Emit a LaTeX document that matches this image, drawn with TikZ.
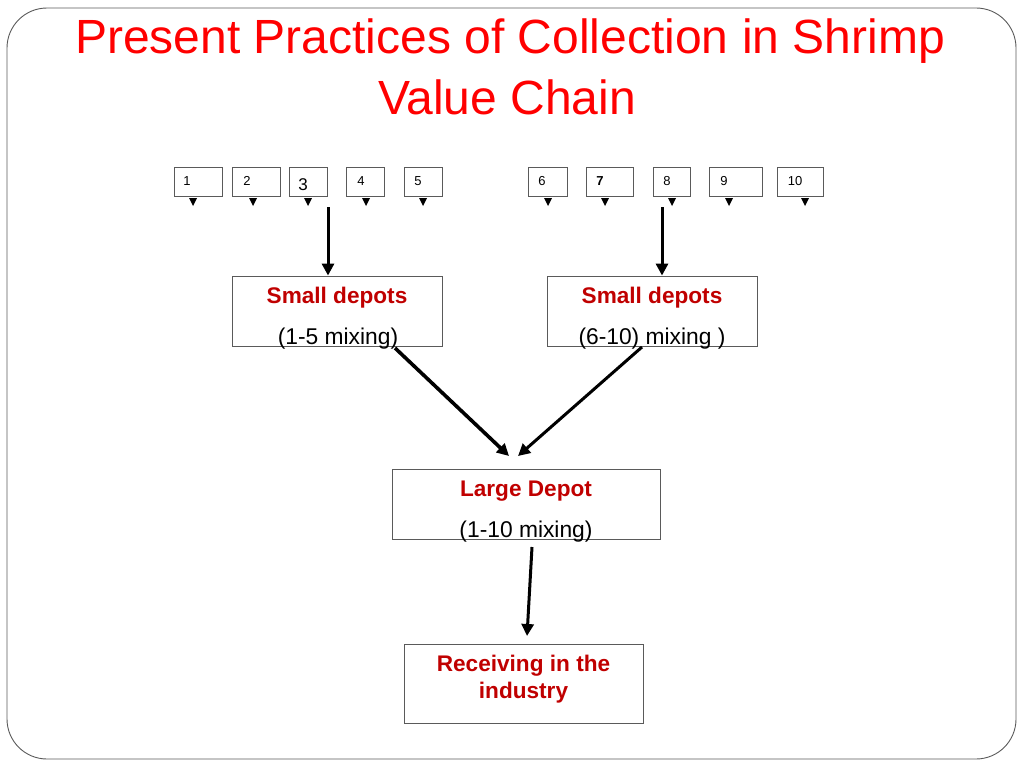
\documentclass[tikz,border=0pt]{standalone}
\usepackage{fontspec}
\setmainfont{Liberation Sans}
\usetikzlibrary{arrows.meta}
\definecolor{titlered}{RGB}{255,0,0}
\definecolor{boxred}{RGB}{192,0,0}
\definecolor{framegray}{RGB}{90,90,90}
\tikzset{
  numbox/.style={draw=framegray, line width=0.9pt, minimum height=29pt, inner sep=0pt},
  numtxt/.style={font=\fontsize{13}{13}\selectfont, inner sep=0pt},
  bigbox/.style={draw=framegray, line width=0.9pt, inner sep=0pt},
  redtxt/.style={text=boxred, font=\bfseries\fontsize{22.6}{27}\selectfont, inner sep=0pt, align=center},
  blacktxt/.style={font=\fontsize{22.8}{27}\selectfont, inner sep=0pt},
  titletxt/.style={text=titlered, font=\fontsize{48}{48}\selectfont, inner sep=0pt, anchor=base},
  bigarrow/.style={line width=3pt, -{Triangle[width=12pt,length=12pt]}},
  tri/.style={fill=black},
}
\begin{document}
\begin{tikzpicture}[x=1pt,y=-1pt]
\useasboundingbox (0,0) rectangle (1024,768);
\draw[framegray, line width=0.9pt, rounded corners=40pt] (7,8) rectangle (1016,759);
% title
\node[titletxt] (t1) at (510,54) {Present Practices of Collection in Shrimp};
\node[titletxt] (t2) at (507,114) {Value Chain};
% small numbered boxes
\foreach \n/\cx/\w/\tx/\trx in {1/198/48/187/193, 2/256/48/247/253, 4/365/38/361/366, 5/423/38/418/423, 6/547.5/39/542/548, 8/671.5/37/667/672, 9/735.5/53/724/729, 10/800/46/795/805}{
  \node[numbox, minimum width=\w pt] (b\n) at (\cx,181.5) {};
  \node[numtxt] (n\n) at (\tx,181) {\n};
  \fill[tri] (\trx-4,198) -- (\trx+4,198) -- (\trx,206) -- cycle;
}
\node[numbox, minimum width=38pt] (b3) at (308,181.5) {};
\node[inner sep=0pt, font=\fontsize{17}{17}\selectfont] (n3) at (303,185) {3};
\fill[tri] (304,198) -- (312,198) -- (308,206) -- cycle;
\node[numbox, minimum width=47pt] (b7) at (609.5,181.5) {};
\node[numtxt, font=\bfseries\fontsize{13}{13}\selectfont] (n7) at (600,181) {7};
\fill[tri] (601,198) -- (609,198) -- (605,206) -- cycle;
% small depots
\node[bigbox, minimum width=210pt, minimum height=70pt] (sd1) at (337,311) {};
\node[redtxt] (sd1t) at (337,297.5) {Small depots};
\node[blacktxt] (sd1m) at (338,338.5) {(1-5 mixing)};
\node[bigbox, minimum width=210pt, minimum height=70pt] (sd2) at (652,311) {};
\node[redtxt] (sd2t) at (652,297.5) {Small depots};
\node[blacktxt] (sd2m) at (652,338.5) {(6-10) mixing )};
% large depot
\node[bigbox, minimum width=268pt, minimum height=70pt] (ld) at (526,504) {};
\node[redtxt] (ldt) at (526,491.5) {Large Depot};
\node[blacktxt] (ldm) at (526,531.5) {(1-10 mixing)};
% receiving
\node[bigbox, minimum width=239pt, minimum height=79pt] (rc) at (523.5,683.5) {};
\node[redtxt] (rct) at (523.5,679.5) {Receiving in the\\industry};
% arrows
\coordinate (a3) at (328,207);
\coordinate (a8) at (662,207);
\draw[bigarrow] (a3) -- (a3 |- sd1.north);
\draw[bigarrow] (a8) -- (a8 |- sd2.north);
\coordinate (l1) at (395,348);
\coordinate (l2) at (642,347);
\coordinate (m1) at (509,456);
\coordinate (m2) at (518,456);
\draw[bigarrow, line width=3.6pt] (l1) -- (m1);
\draw[bigarrow] (l2) -- (m2);
\coordinate (d1) at (532,547);
\draw[bigarrow] (d1) -- (527,636);
\end{tikzpicture}
\end{document}
